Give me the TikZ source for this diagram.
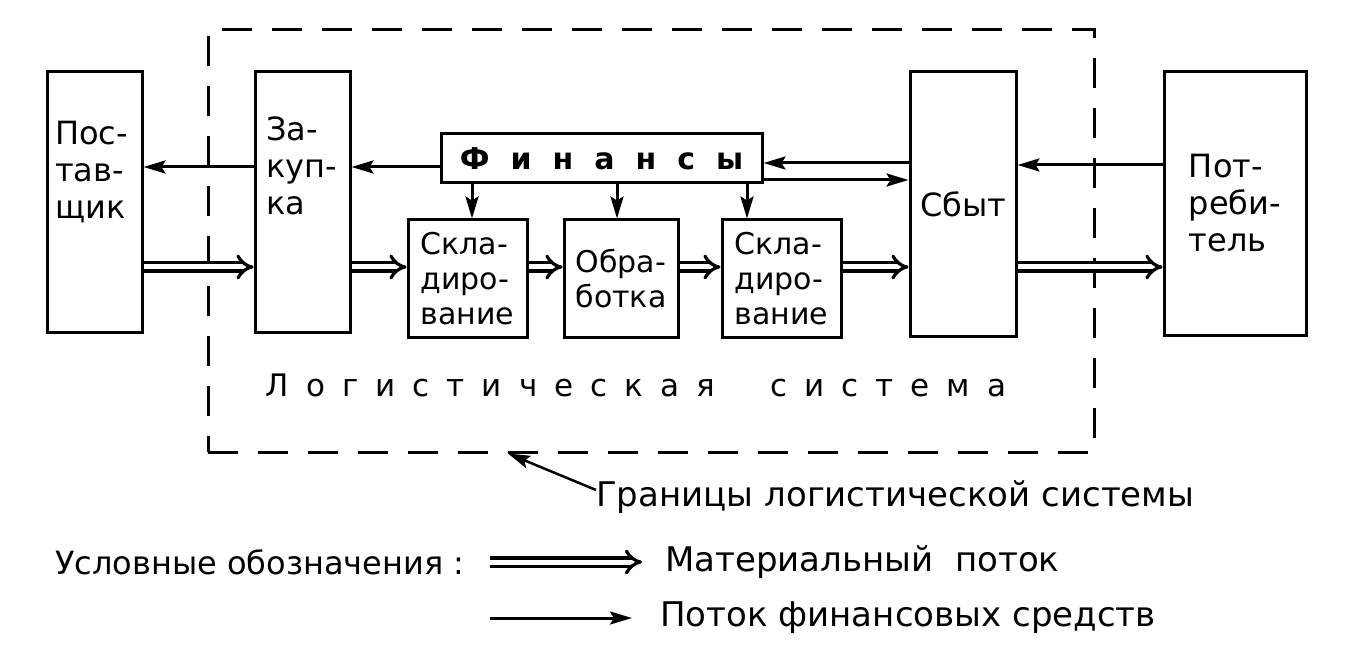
\documentclass[tikz,border=0pt]{standalone}
\usepackage{fontspec}
\setmainfont{DejaVu Sans}
\newfontfamily\spacedfont[LetterSpace=55]{DejaVu Sans}
\newfontfamily\finfont[LetterSpace=70]{DejaVu Sans}
\usetikzlibrary{arrows.meta,positioning}

\begin{document}
\begin{tikzpicture}[x=1pt,y=-1pt,
    box/.style={draw, line width=3pt, inner sep=0pt, align=left, font=\fontsize{30}{35}\selectfont},
    lbl/.style={inner sep=0pt, align=left, font=\fontsize{32}{37}\selectfont},
    mat/.style={double, double distance=5pt, line width=3.2pt, -{Implies[length=14pt,width=30pt]}},
    money/.style={line width=3pt, -{Stealth[length=22pt,width=13pt,inset=4pt]}},
    border/.style={draw, line width=3pt, dash pattern=on 30pt off 20pt, inner sep=0pt}]
        \useasboundingbox (0,0) rectangle (1346,660);
        \node[box, minimum width=95pt, minimum height=260pt] (post) at (94.5,202) {};
        \node[lbl, anchor=west] (posttext) at (55,172) {Пос-\\тав-\\щик};
        \node[box, minimum width=95pt, minimum height=260pt] (zak) at (302.5,202) {};
        \node[lbl, anchor=west] (zaktext) at (266,166) {За-\\куп-\\ка};
        \node[box, minimum width=321pt, minimum height=49pt, font=\finfont\bfseries\fontsize{30}{30}\selectfont] (fin) at (601.5,158.5) {Финансы};
        \node[box, minimum width=119pt, minimum height=117pt] (sk1) at (467.5,278.5) {Скла-\\диро-\\вание};
        \node[box, minimum width=114pt, minimum height=117pt] (obr) at (621,278.5) {Обра-\\ботка};
        \node[box, minimum width=119pt, minimum height=117pt] (sk2) at (781.5,278.5) {Скла-\\диро-\\вание};
        \node[box, minimum width=106pt, minimum height=264pt, font=\fontsize{32}{37}\selectfont] (sbyt) at (963,204) {Сбыт};
        \node[box, minimum width=142pt, minimum height=263pt, font=\fontsize{32}{37}\selectfont] (potr) at (1235,203.5) {Пот-\\реби-\\тель};
        \node[border, minimum width=886pt, minimum height=422pt] (bound) at (651,241) {};
        \node[inner sep=0pt, font=\spacedfont\fontsize{31}{31}\selectfont] (sys) at (636,385) {Логистическая\hspace{55pt}система};

        \coordinate (a1) at (0,167);
        \coordinate (a2) at (0,163);
        \coordinate (a3) at (0,180);
        \coordinate (a4) at (0,165);
        \coordinate (m) at (0,267);
        \coordinate (d1) at (472,0);
        \coordinate (d2) at (617,0);
        \coordinate (d3) at (747,0);
        \draw[money] (zak.west |- a1) -- (post.east |- a1);
        \draw[money] (fin.west |- a1) -- (zak.east |- a1);
        \draw[money] (sbyt.west |- a2) -- (fin.east |- a2);
        \draw[money] (fin.east |- a3) -- (sbyt.west |- a3);
        \draw[money] (potr.west |- a4) -- (sbyt.east |- a4);
        \foreach \x/\b in {d1/sk1, d2/obr, d3/sk2}
            \draw[money] (fin.south -| \x) -- (\b.north -| \x);
        \foreach \a/\b in {post/zak, zak/sk1, sk1/obr, obr/sk2, sk2/sbyt, sbyt/potr}
            \draw[mat] (\a.east |- m) -- (\b.west |- m);

        \node[lbl, anchor=west, font=\fontsize{34}{37}\selectfont] (gran) at (596,497) {Границы логистической системы};
        \coordinate (gtip) at ([xshift=-143pt]bound.south);
        \draw[money, line width=2.5pt] ([yshift=7pt]gran.west) -- (gtip);

        \node[lbl, anchor=west] (legend) at (55,562) {Условные обозначения :};
        \coordinate (mat0) at (490,562);
        \coordinate (mat1) at (642,562);
        \draw[mat] (mat0) -- (mat1);
        \node[lbl, anchor=west, font=\fontsize{34}{37}\selectfont] (mattext) at (665,562) {Материальный\ \ поток};
        \coordinate (fin0) at (490,618);
        \coordinate (fin1) at (632,618);
        \draw[money] (fin0) -- (fin1);
        \node[lbl, anchor=west, font=\fontsize{34}{37}\selectfont] (fintext) at (660,618) {Поток финансовых средств};
    \end{tikzpicture}
\end{document}
